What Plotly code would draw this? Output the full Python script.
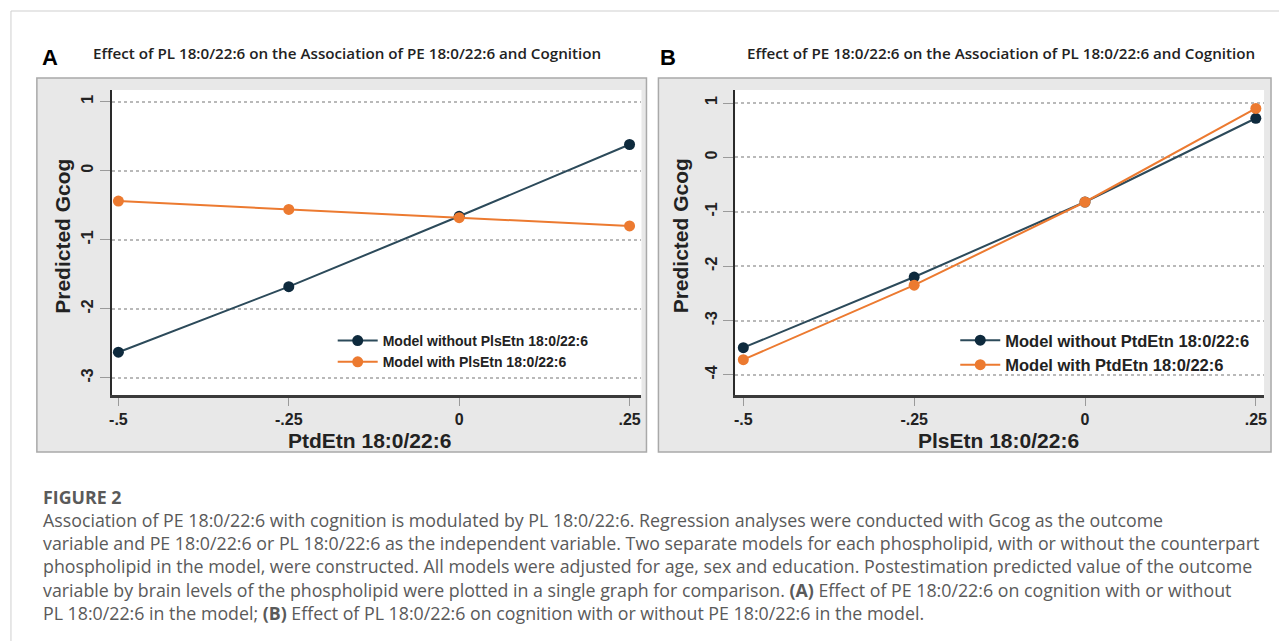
import plotly.graph_objects as go

W, H = 1279, 641


def px(x):
    return x / W


def py(y):
    return 1 - y / H


# ---------------- data ----------------
x_vals = [-0.5, -0.25, 0, 0.25]
a_without = [-2.63, -1.68, -0.66, 0.38]
a_with = [-0.44, -0.56, -0.68, -0.80]
b_without = [-3.50, -2.20, -0.82, 0.72]
b_with = [-3.72, -2.35, -0.82, 0.90]

x_tickvals = [-0.5, -0.25, 0, 0.25]
x_ticktext = ["-.5", "-.25", "0", ".25"]
a_yticks = [1, 0, -1, -2, -3]
b_yticks = [1, 0, -1, -2, -3, -4]

a_names = ["Model without PlsEtn 18:0/22:6", "Model with PlsEtn 18:0/22:6"]
b_names = ["Model without PtdEtn 18:0/22:6", "Model with PtdEtn 18:0/22:6"]

NAVY_LINE = "#2c4a5a"
NAVY_MK = "#0e2a3d"
ORANGE = "#ec7a30"

fig = go.Figure()

def add_pair(xa, ya, yw, yo, names, legend):
    fig.add_trace(go.Scatter(x=x_vals, y=yw, mode="lines+markers", name=names[0],
                             xaxis=xa, yaxis=ya, legend=legend,
                             line=dict(color=NAVY_LINE, width=2),
                             marker=dict(color=NAVY_MK, size=11)))
    fig.add_trace(go.Scatter(x=x_vals, y=yo, mode="lines+markers", name=names[1],
                             xaxis=xa, yaxis=ya, legend=legend,
                             line=dict(color=ORANGE, width=2),
                             marker=dict(color=ORANGE, size=11)))

add_pair("x", "y", a_without, a_with, a_names, "legend")
add_pair("x2", "y2", b_without, b_with, b_names, "legend2")

SANS = "Liberation Sans, Arial, sans-serif"
tickfont = dict(family=SANS, size=16, color="#222222", weight="bold")

def xaxis_cfg(domain, anchor, rng):
    return dict(domain=domain, anchor=anchor, range=rng, tickvals=x_tickvals,
                ticktext=x_ticktext, showgrid=False, zeroline=False,
                showline=True, linecolor="#3a3a3a", linewidth=2.5,
                ticks="outside", ticklen=8, tickcolor="#9a9a9a", tickwidth=1,
                tickfont=tickfont)

def yaxis_cfg(domain, anchor, rng, tv):
    return dict(domain=domain, anchor=anchor, range=rng, tickvals=tv,
                ticktext=[str(v) for v in tv],
                showgrid=True, gridcolor="#b9b9b9", griddash="3px,3px", gridwidth=1.5,
                zeroline=False, showline=True, linecolor="#2a2a2a", linewidth=2,
                ticks="outside", ticklen=10, tickcolor="#9a9a9a", tickwidth=1,
                tickangle=-90, tickfont=tickfont)

ydom = [py(395), py(90)]
fig.update_layout(
    width=W, height=H, margin=dict(l=0, r=0, t=0, b=0),
    paper_bgcolor="white", plot_bgcolor="white",
    xaxis=xaxis_cfg([px(110), px(642)], "y", [-0.51, 0.2675]),
    yaxis=yaxis_cfg(ydom, "x", [-3.25, 1.17], a_yticks),
    xaxis2=xaxis_cfg([px(736), px(1267)], "y2", [-0.512, 0.262]),
    yaxis2=yaxis_cfg(ydom, "x2", [-4.37, 1.24], b_yticks),
    legend=dict(x=px(332), y=py(325), xanchor="left", yanchor="top",
                bgcolor="rgba(255,255,255,0)", borderwidth=0, tracegroupgap=0,
                font=dict(family=SANS, size=14, color="#222222", weight="bold"),
                itemwidth=40),
    legend2=dict(x=px(957), y=py(323), xanchor="left", yanchor="top",
                 bgcolor="rgba(255,255,255,0)", borderwidth=0, tracegroupgap=0,
                 font=dict(family=SANS, size=16.5, color="#222222", weight="bold"),
                 itemwidth=40),
    showlegend=True,
)

shapes = []
# page border (left and top visible)
shapes.append(dict(type="rect", xref="paper", yref="paper", x0=px(9), y0=py(11),
                   x1=px(1300), y1=py(700), line=dict(color="#cfcfcf", width=1),
                   fillcolor="rgba(0,0,0,0)", layer="below"))
# grey graph regions
for (l, r) in [(35, 647), (659, 1274)]:
    shapes.append(dict(type="rect", xref="paper", yref="paper", x0=px(l), y0=py(452),
                       x1=px(r), y1=py(78), line=dict(color="#a9a9a9", width=1.5),
                       fillcolor="#e8e8e8", layer="below"))
# white plot areas
for xr, yr in [("x domain", "y domain"), ("x2 domain", "y2 domain")]:
    shapes.append(dict(type="rect", xref=xr, yref=yr, x0=0, y0=0, x1=1, y1=1,
                       line=dict(width=0), fillcolor="white", layer="below"))
fig.update_layout(shapes=shapes)

ann = []
titlefont = dict(family="Open Sans, sans-serif", size=15.2, color="#222222", weight=600)
ann.append(dict(text="<b>A</b>", x=px(38), y=py(57), xref="paper", yref="paper",
                xanchor="left", yanchor="middle", showarrow=False,
                font=dict(family=SANS, size=22, color="black")))
ann.append(dict(text="<b>B</b>", x=px(659), y=py(57), xref="paper", yref="paper",
                xanchor="left", yanchor="middle", showarrow=False,
                font=dict(family=SANS, size=22, color="black")))
ann.append(dict(text="Effect of PL 18:0/22:6 on the Association of PE 18:0/22:6 and Cognition",
                x=px(346), y=py(53), xref="paper", yref="paper", xanchor="center",
                yanchor="middle", showarrow=False, font=titlefont))
ann.append(dict(text="Effect of PE 18:0/22:6 on the Association of PL 18:0/22:6 and Cognition",
                x=px(1003), y=py(53), xref="paper", yref="paper", xanchor="center",
                yanchor="middle", showarrow=False, font=titlefont))
axtitle = dict(family=SANS, size=21, color="#222222", weight="bold")
ann.append(dict(text="Predicted Gcog", x=px(60), y=py(236), xref="paper", yref="paper",
                xanchor="center", yanchor="middle", textangle=-90, showarrow=False, font=axtitle))
ann.append(dict(text="Predicted Gcog", x=px(681), y=py(236), xref="paper", yref="paper",
                xanchor="center", yanchor="middle", textangle=-90, showarrow=False, font=axtitle))
ann.append(dict(text="PtdEtn 18:0/22:6", x=px(369), y=py(440), xref="paper", yref="paper",
                xanchor="center", yanchor="middle", showarrow=False, font=axtitle))
ann.append(dict(text="PlsEtn 18:0/22:6", x=px(1000), y=py(440), xref="paper", yref="paper",
                xanchor="center", yanchor="middle", showarrow=False, font=axtitle))

caption_title = "<b>FIGURE 2</b>"
caption_lines = [
    "Association of PE 18:0/22:6 with cognition is modulated by PL 18:0/22:6. Regression analyses were conducted with Gcog as the outcome",
    "variable and PE 18:0/22:6 or PL 18:0/22:6 as the independent variable. Two separate models for each phospholipid, with or without the counterpart",
    "phospholipid in the model, were constructed. All models were adjusted for age, sex and education. Postestimation predicted value of the outcome",
    "variable by brain levels of the phospholipid were plotted in a single graph for comparison. <b>(A)</b> Effect of PE 18:0/22:6 on cognition with or without",
    "PL 18:0/22:6 in the model; <b>(B)</b> Effect of PL 18:0/22:6 on cognition with or without PE 18:0/22:6 in the model.",
]
ann.append(dict(text="<br>".join([caption_title] + caption_lines), x=px(39), y=py(483),
                xref="paper", yref="paper", xanchor="left", yanchor="top", align="left",
                showarrow=False,
                font=dict(family="Open Sans, sans-serif", size=17.8, color="#5a5a5a")))
fig.update_layout(annotations=ann)

fig.write_html("out.html")
